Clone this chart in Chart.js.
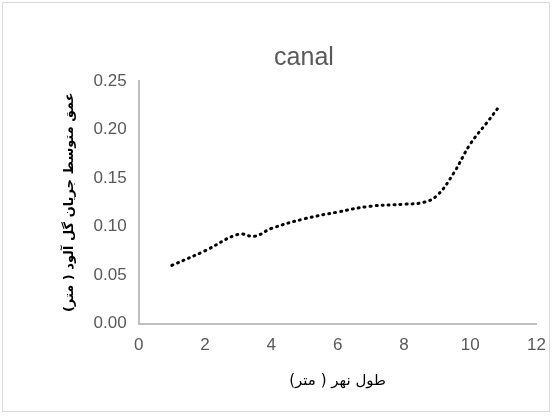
<!DOCTYPE html><html><head><script src="https://cdn.jsdelivr.net/npm/chart.js@4"></script>
<style>body{margin:0;background:#fff}#w{position:absolute;left:0;top:0;width:558px;height:418px}
#b{position:absolute;left:2px;top:2px;width:548px;height:410px;border:1px solid #d9d9d9;box-sizing:border-box}</style></head>
<body><div id="b"></div><div id="w"><canvas id="c"></canvas></div><script>
const xs=[1,2,3,3.5,4,5,6,7,8,8.6,9,9.5,10,10.5,10.9];
const ys=[0.06,0.075,0.092,0.09,0.098,0.108,0.115,0.121,0.123,0.125,0.132,0.155,0.185,0.207,0.225];
const title='canal', xTitle='طول نهر ( متر)', yTitle='عمق متوسط جریان گل آلود ( متر)';
const g='#595959';
new Chart(document.getElementById('c'),{type:'scatter',data:{datasets:[{data:xs.map((x,i)=>({x,y:ys[i]})),showLine:true,tension:0.4,borderColor:'#000',borderWidth:3,borderDash:[1,5],borderCapStyle:'round',pointRadius:0}]},
options:{responsive:true,maintainAspectRatio:false,animation:false,
layout:{padding:{left:58,right:8,top:43,bottom:24}},
plugins:{legend:{display:false},tooltip:{enabled:false},title:{display:true,text:title,color:g,font:{family:'Liberation Sans',size:25,weight:'normal'},padding:{top:0,bottom:8}}},
scales:{x:{type:'linear',min:0,max:12,grid:{display:false,drawTicks:false},border:{color:'#bfbfbf',width:2},ticks:{stepSize:2,color:g,font:{family:'Liberation Sans',size:17},padding:12},title:{display:true,text:xTitle,color:'#000',font:{family:'DejaVu Sans',size:15},padding:{top:4}}},
y:{min:0,max:0.25,grid:{display:false,drawTicks:false},border:{color:'#bfbfbf',width:2},ticks:{stepSize:0.05,color:g,font:{family:'Liberation Sans',size:17},padding:12,callback:v=>v.toFixed(2)},title:{display:true,text:yTitle,color:'#000',font:{family:'DejaVu Sans',size:13,weight:'bold'},padding:{bottom:4}}}}}});
</script></body></html>
